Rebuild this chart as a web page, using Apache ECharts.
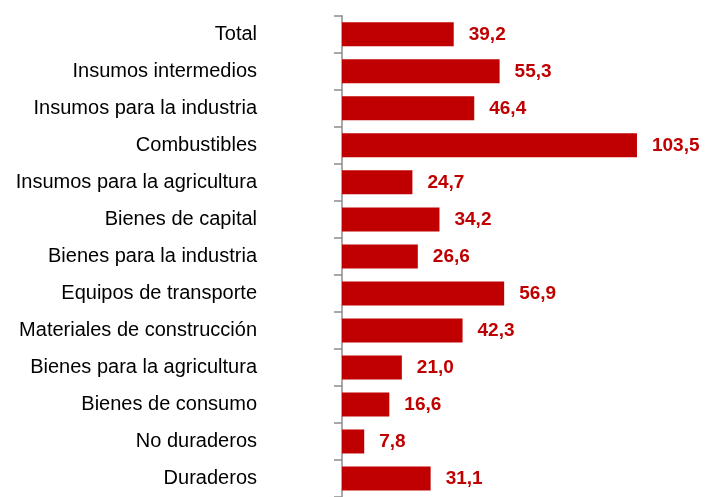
<!DOCTYPE html>
<html>
<head>
<meta charset="utf-8">
<script src="https://cdn.jsdelivr.net/npm/echarts@6/dist/echarts.min.js"></script>
<style>html,body{margin:0;padding:0;background:#fff;}#c{width:705px;height:497px;}</style>
</head>
<body>
<div id="c"></div>
<script>
const categories = ["Total","Insumos intermedios","Insumos para la industria","Combustibles","Insumos para la agricultura","Bienes de capital","Bienes para la industria","Equipos de transporte","Materiales de construcción","Bienes para la agricultura","Bienes de consumo","No duraderos","Duraderos"];
const values = [39.2,55.3,46.4,103.5,24.7,34.2,26.6,56.9,42.3,21.0,16.6,7.8,31.1];

const chart = echarts.init(document.getElementById('c'), null, {renderer:'canvas'});
chart.setOption({
  animation:false,
  backgroundColor:'#ffffff',
  grid:{left:342, right:21, top:15.8, bottom:-4.2, containLabel:false},
  xAxis:{type:'value', min:0, max:120, show:false},
  yAxis:{
    type:'category', data:categories, inverse:true,
    axisLine:{show:true, lineStyle:{color:'#8c8c8c', width:1.5}},
    axisTick:{show:true, length:8, lineStyle:{color:'#8c8c8c', width:1.5}},
    axisLabel:{margin:85, color:'#000', fontFamily:'"Liberation Sans", Arial, sans-serif', fontSize:20}
  },
  series:[{
    type:'bar', data:values, barWidth:24,
    itemStyle:{color:'#C00000'},
    label:{show:true, position:'right', distance:15, color:'#C00000', fontWeight:'bold',
      fontFamily:'"Liberation Sans", Arial, sans-serif', fontSize:19,
      formatter:p=>p.value.toFixed(1).replace('.',',')}
  }]
});
</script>
</body>
</html>
